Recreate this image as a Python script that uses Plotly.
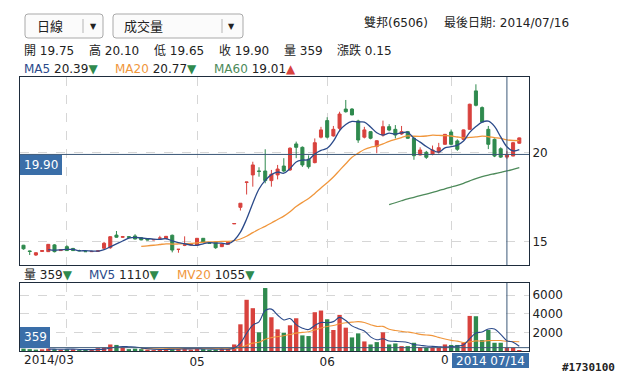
import plotly.graph_objects as go
import pandas as pd

# ---------------- data ----------------
mar = [21, 24, 25, 26, 27, 28, 31]
apr = [1, 2, 3, 7, 8, 9, 10, 11, 14, 15, 16, 17, 18, 21, 22, 23, 24, 25, 28, 29, 30]
may = [2, 5, 6, 7, 8, 9, 12, 13, 14, 15, 16, 19, 20, 21, 22, 23, 26, 27, 28, 29, 30]
jun = [3, 4, 5, 6, 9, 10, 11, 12, 13, 16, 17, 18, 19, 20, 23, 24, 25, 26, 27, 30]
jul = [1, 2, 3, 4, 7, 8, 9, 10, 11, 14, 15, 16]
dates = [f"2014-{m:02d}-{d:02d}" for m, days in ((3, mar), (4, apr), (5, may), (6, jun), (7, jul)) for d in days]

opens = [14.80, 14.48, 14.25, 14.45, 14.44, 14.82, 14.50, 14.72, 14.62, 14.50,
         14.45, 14.44, 14.46, 14.63, 14.66, 15.37, 15.25, 15.28, 15.32, 15.22,
         15.15, 15.10, 15.20, 15.17, 15.36, 14.57, 14.80, 14.82, 14.81, 15.19,
         14.92, 14.97, 14.72, 14.85, 16.00, 16.93, 18.33, 18.75, 18.97, 18.97,
         18.43, 18.75, 19.25, 19.03, 20.49, 20.30, 19.63, 19.44, 20.87, 21.80,
         20.94, 21.37, 22.45, 22.45, 21.78, 20.87, 21.18, 20.34, 20.99, 21.46,
         21.31, 21.05, 21.18, 20.81, 19.87, 20.02, 19.91, 20.04, 20.47, 21.16,
         20.66, 20.75, 21.31, 23.47, 22.53, 21.31, 20.75, 20.22, 19.75, 19.81,
         20.53]
highs = [14.82, 14.50, 14.40, 14.52, 14.87, 14.86, 14.56, 14.80, 14.65, 14.55,
         14.47, 14.47, 14.50, 14.99, 15.30, 15.60, 15.32, 15.30, 15.42, 15.25,
         15.18, 15.15, 15.33, 15.32, 15.40, 14.58, 15.30, 14.88, 15.20, 15.20,
         14.95, 14.98, 14.90, 15.00, 16.02, 17.16, 18.35, 19.49, 19.18, 20.19,
         19.03, 19.31, 19.69, 20.30, 20.62, 20.35, 19.85, 20.80, 21.45, 21.99,
         21.50, 22.30, 22.96, 22.50, 21.85, 21.45, 21.20, 20.70, 21.80, 21.60,
         21.55, 21.50, 21.22, 20.85, 20.30, 20.10, 20.40, 20.55, 21.05, 21.30,
         20.75, 21.30, 22.75, 23.84, 22.60, 21.50, 20.80, 20.30, 20.10, 20.60,
         20.85]
lows = [14.55, 14.25, 14.20, 14.45, 14.42, 14.40, 14.50, 14.50, 14.48, 14.45,
        14.42, 14.42, 14.45, 14.60, 14.60, 15.22, 15.22, 15.22, 15.13, 15.08,
        15.08, 15.08, 15.18, 15.15, 14.40, 14.38, 14.75, 14.80, 14.80, 14.95,
        14.88, 14.60, 14.70, 14.85, 16.00, 16.75, 17.65, 18.09, 18.65, 18.28,
        18.09, 18.50, 18.90, 18.97, 19.69, 19.20, 19.10, 19.40, 20.80, 20.80,
        20.90, 21.20, 22.25, 22.10, 20.55, 20.80, 20.75, 19.97, 20.90, 21.20,
        20.80, 21.00, 20.78, 19.60, 19.85, 19.65, 19.85, 19.95, 20.45, 20.40,
        20.10, 20.70, 21.30, 22.60, 21.70, 20.20, 19.75, 19.70, 19.65, 19.80,
        20.50]
closes = [14.60, 14.45, 14.38, 14.50, 14.85, 14.44, 14.53, 14.50, 14.50, 14.49,
          14.44, 14.45, 14.48, 14.91, 15.28, 15.25, 15.28, 15.25, 15.15, 15.10,
          15.10, 15.12, 15.20, 15.30, 14.53, 14.57, 14.82, 14.85, 15.19, 14.97,
          14.90, 14.66, 14.87, 14.97, 16.02, 17.16, 18.35, 19.31, 18.95, 18.43,
          18.79, 19.08, 18.97, 20.25, 20.30, 19.31, 19.21, 20.56, 21.28, 20.87,
          21.31, 22.17, 22.30, 22.12, 20.71, 21.28, 20.81, 20.67, 21.46, 21.27,
          20.99, 21.18, 20.81, 19.83, 20.15, 19.74, 20.15, 20.28, 21.03, 20.47,
          20.19, 21.28, 22.72, 22.66, 21.72, 20.47, 19.81, 19.75, 19.90, 20.56,
          20.83]
volumes = [250, 200, 150, 180, 250, 200, 150, 200, 180, 100,
           120, 150, 300, 350, 700, 650, 380, 200, 250, 200,
           150, 100, 120, 250, 300, 200, 250, 150, 300, 200,
           150, 150, 200, 250, 702, 2862, 5490, 4590, 2000, 6750,
           3618, 2322, 1962, 2754, 3510, 1674, 1602, 4158, 4338, 3402,
           2250, 3870, 2502, 1458, 1890, 1026, 702, 954, 2000, 702,
           810, 522, 522, 882, 378, 342, 342, 342, 702, 648,
           648, 882, 3762, 3726, 1170, 2250, 882, 882, 359, 342,
           108]

month_ticks = ["2014-04-01", "2014-05-02", "2014-06-03", "2014-07-01"]
month_text = ["", "05", "06", ""]
price_ticks = [15, 20]
vol_ticks = [2000, 4000, 6000]
cursor_date = "2014-07-14"
cursor_close = 19.90
cursor_vol = 359

# ---------------- styling ----------------
W, H = 623, 376
RED = "#d8423d"
GREEN = "#2f8a4e"
NAVY = "#2b4a8a"
ORANGE = "#f0963c"
MA60C = "#4d8a5a"
BOXBLUE = "#3a6ea8"
CROSS = "#3b5878"
BORDER = "#1e2c3c"
GRID = "#d6d6d6"
FONT = "DejaVu Sans, Noto Sans CJK TC, sans-serif"


def px(x):
    return x / W


def py(y):
    return 1 - y / H


s_close = pd.Series(closes)
s_vol = pd.Series(volumes)
ma5 = s_close.rolling(5).mean()
ma20 = s_close.rolling(20).mean()
ma60 = s_close.rolling(60).mean()
mv5 = s_vol.rolling(5).mean()
mv20 = s_vol.rolling(20).mean()

vol_colors = []
for i, c in enumerate(closes):
    ref = opens[0] if i == 0 else closes[i - 1]
    vol_colors.append(RED if c >= ref else GREEN)

fig = go.Figure()
fig.add_trace(go.Candlestick(
    x=dates, open=opens, high=highs, low=lows, close=closes,
    increasing=dict(line=dict(color=RED, width=1), fillcolor=RED),
    decreasing=dict(line=dict(color=GREEN, width=1), fillcolor=GREEN),
    whiskerwidth=0, xaxis="x", yaxis="y", showlegend=False, hoverinfo="skip"))
for series, col in ((ma60, MA60C), (ma20, ORANGE), (ma5, NAVY)):
    fig.add_trace(go.Scatter(x=dates, y=series, mode="lines",
                             line=dict(color=col, width=1.3, shape="spline", smoothing=1),
                             xaxis="x", yaxis="y", showlegend=False, hoverinfo="skip"))

fig.add_trace(go.Bar(x=dates, y=volumes, marker=dict(color=vol_colors, line=dict(width=0)),
                     xaxis="x2", yaxis="y2", showlegend=False, hoverinfo="skip"))
for series, col in ((mv20, ORANGE), (mv5, NAVY)):
    fig.add_trace(go.Scatter(x=dates, y=series, mode="lines",
                             line=dict(color=col, width=1.1, shape="spline", smoothing=1),
                             xaxis="x2", yaxis="y2", showlegend=False, hoverinfo="skip"))

n = len(dates)
xr = [-0.565, n - 1 + (529 - 519.3) / 6.2]
dom_x = [px(20), px(529)]

axis_common = dict(showline=True, mirror=True, linecolor=BORDER, linewidth=1,
                   showgrid=True, gridcolor=GRID, griddash="dash", gridwidth=1,
                   zeroline=False, ticks="", fixedrange=True)

fig.update_layout(
    width=W, height=H, margin=dict(l=0, r=0, t=0, b=0),
    paper_bgcolor="white", plot_bgcolor="white",
    font=dict(family=FONT, size=12, color="#222"),
    bargap=0.3, boxgap=0.3, hovermode=False,
    xaxis=dict(domain=dom_x, anchor="y", type="category", categoryorder="array",
               categoryarray=dates, range=xr, tickvals=month_ticks, showticklabels=False,
               rangeslider=dict(visible=False), **axis_common),
    yaxis=dict(domain=[py(265), py(77)], anchor="x", side="right", range=[13.69, 24.25],
               tickvals=price_ticks, tickfont=dict(size=12, color="#222"), **axis_common),
    xaxis2=dict(domain=dom_x, anchor="y2", type="category", categoryorder="array",
                categoryarray=dates, range=xr, tickvals=month_ticks, ticktext=month_text,
                tickfont=dict(size=12, color="#222"), **axis_common),
    yaxis2=dict(domain=[py(351), py(283)], anchor="x2", side="right", range=[0, 7290],
                tickvals=vol_ticks, tickfont=dict(size=12, color="#222"), **axis_common),
)

shapes = []
# crosshair lines
shapes.append(dict(type="line", xref="x domain", yref="y", x0=0, x1=1, y0=cursor_close, y1=cursor_close,
                   line=dict(color=CROSS, width=1)))
shapes.append(dict(type="line", xref="x", yref="y domain", x0=cursor_date, x1=cursor_date, y0=0, y1=1,
                   line=dict(color=CROSS, width=1)))
shapes.append(dict(type="line", xref="x2 domain", yref="y2", x0=0, x1=1, y0=cursor_vol, y1=cursor_vol,
                   line=dict(color=CROSS, width=1)))
shapes.append(dict(type="line", xref="x2", yref="y2 domain", x0=cursor_date, x1=cursor_date, y0=0, y1=1,
                   line=dict(color=CROSS, width=1)))
# label boxes
for (x0, y0, x1, y1) in ((20, 155, 62, 175), (20, 327, 50, 348), (452, 353, 529, 368)):
    shapes.append(dict(type="rect", xref="paper", yref="paper", x0=px(x0), x1=px(x1),
                       y0=py(y1), y1=py(y0), fillcolor=BOXBLUE, line=dict(width=0), layer="above"))


def rrect(x0, y0, x1, y1, r=3):
    rx, ry = r / W, r / H
    X0, X1, Y0, Y1 = px(x0), px(x1), py(y1), py(y0)
    return (f"M{X0+rx},{Y0} L{X1-rx},{Y0} Q{X1},{Y0} {X1},{Y0+ry} L{X1},{Y1-ry} Q{X1},{Y1} {X1-rx},{Y1} "
            f"L{X0+rx},{Y1} Q{X0},{Y1} {X0},{Y1-ry} L{X0},{Y0+ry} Q{X0},{Y0} {X0+rx},{Y0} Z")


for (x0, x1, xd) in ((25, 103, 83), (113, 243, 222)):
    shapes.append(dict(type="path", xref="paper", yref="paper", path=rrect(x0, 14, x1, 38),
                       fillcolor="#fbfbfb", line=dict(color="#a9a9a9", width=1)))
    shapes.append(dict(type="line", xref="paper", yref="paper", x0=px(xd), x1=px(xd),
                       y0=py(19), y1=py(33), line=dict(color="#b5b5b5", width=1)))
fig.update_layout(shapes=shapes)

ann = []


def text(x, y, t, size=12, color="#222", anchor="left", family=FONT):
    ann.append(dict(x=px(x), y=py(y), xref="paper", yref="paper", text=t, showarrow=False,
                    xanchor=anchor, yanchor="middle", font=dict(size=size, color=color, family=family)))


def sp(t, c):
    return f"<span style='color:{c}'>{t}</span>"


# dropdowns
text(35, 26, "日線", 13)
text(93, 27, "▼", 8, anchor="center")
text(122, 26, "成交量", 13)
text(231, 27, "▼", 8, anchor="center")
# title
text(362, 23, "雙邦(6506)", 12)
text(442, 23, "最後日期: 2014/07/16", 12)
# OHLC line
for t, x in (("開 19.75", 22), ("高 20.10", 87), ("低 19.65", 152), ("收 19.90", 217),
             ("量 359", 282), ("漲跌 0.15", 335)):
    text(x, 51, t, 12)
# MA line
text(22, 69, sp("MA5", NAVY) + " 20.39" + sp("▼", GREEN), 12)
text(113, 69, sp("MA20", ORANGE) + " 20.77" + sp("▼", GREEN), 12)
text(212, 69, sp("MA60", MA60C) + " 19.01" + sp("▲", RED), 12)
# volume header
text(22, 275, "量 359" + sp("▼", GREEN), 12)
text(87, 275, sp("MV5", NAVY) + " 1110" + sp("▼", GREEN), 12)
text(175, 275, sp("MV20", ORANGE) + " 1055" + sp("▼", GREEN), 12)
# boxes text
text(41, 165, "19.90", 12, "white", "center")
text(35, 337, "359", 12, "white", "center")
text(490.5, 360.5, "2014 07/14", 12, "white", "center")
# month labels partly hidden by cursor date box
text(22, 360, "2014/03", 12)
text(451, 360, "0", 12, anchor="right")
# id
text(617, 367, "<b>#1730100</b>", 11, "#222", "right", "DejaVu Sans Mono")
fig.update_layout(annotations=ann)

fig.write_html("out.html", config={"displayModeBar": False, "staticPlot": True},
               post_script="document.body.style.margin='0';document.body.style.overflow='hidden';")
